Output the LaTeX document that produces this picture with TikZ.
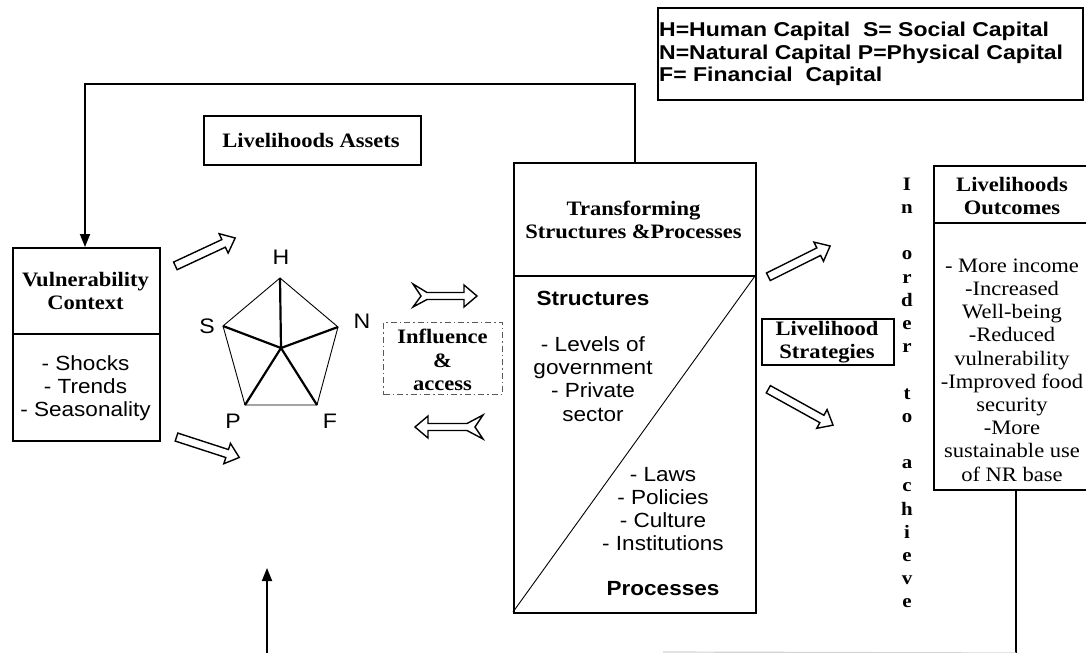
\documentclass[tikz,border=0pt]{standalone}
\usepackage{fontspec}
\setmainfont{Liberation Serif}
\newfontfamily\tnr[FakeStretch=1.1]{Liberation Serif}
\newfontfamily\ari[FakeStretch=1.1]{Liberation Sans}
\newfontfamily\arileg[FakeStretch=1.15]{Liberation Sans}
\usetikzlibrary{shapes.arrows, arrows.meta}
\tikzset{
  box/.style={draw, line width=1.8bp, inner sep=0, anchor=north west},
  ttl/.style={font=\tnr\bfseries\fontsize{20.5bp}{23.2bp}\selectfont, align=center, inner sep=0},
  srf/.style={font=\tnr\fontsize{20.5bp}{23.2bp}\selectfont, align=center, inner sep=0},
  sns/.style={font=\ari\fontsize{20.5bp}{23.2bp}\selectfont, align=center, inner sep=0},
  snsb/.style={font=\ari\bfseries\fontsize{20.5bp}{23.2bp}\selectfont, inner sep=0},
  lbl/.style={font=\ari\fontsize{21bp}{23bp}\selectfont, inner sep=0},
  blockarrow/.style={single arrow, draw, line width=1.4bp, inner xsep=0, inner ysep=3.5bp,
    single arrow head extend=6.5bp, single arrow tip angle=80},
  conn/.style={line width=1.8bp, -{Triangle[length=13bp,width=10bp]}},
  plain/.style={line width=1.8bp},
  thin/.style={line width=0.9bp},
  spoke/.style={line width=2.2bp},
}
\begin{document}
\begin{tikzpicture}[x=1bp,y=-1bp]
\useasboundingbox (0,0) rectangle (1086,653);
% legend
\node[box, minimum width=425bp, minimum height=92bp] (leg) at (657,7) {};
\node[font=\arileg\bfseries\fontsize{20bp}{22.5bp}\selectfont, align=left, inner sep=0, anchor=west] (legt) at (659,54)
 {H=Human Capital\ \ S= Social Capital\\N=Natural Capital P=Physical Capital\\F= Financial\ \ Capital};
% livelihoods assets
\node[box, minimum width=217bp, minimum height=49bp] (la) at (203,115) {};
\node[ttl] (lat) at (311,140) {Livelihoods Assets};
% vulnerability
\node[box, minimum width=147bp, minimum height=193bp] (vul) at (12,247) {};
\draw[plain] (12,334) -- (159,334);
\node[ttl] (vult) at (85.5,291) {Vulnerability\\Context};
\node[sns] (vuli) at (85.5,388) {- Shocks\\- Trends\\- Seasonality};
% transforming
\node[box, minimum width=242bp, minimum height=450bp] (tr) at (513,162) {};
\draw[plain] (513,276) -- (755,276);
\draw[thin] (755,276) -- (513,612);
\node[ttl] (trt) at (633.5,220) {Transforming\\Structures \&Processes};
\node[snsb] (st) at (593,298) {Structures};
\node[sns] (sti) at (593,379) {- Levels of\\government\\- Private\\sector};
\node[sns] (pri) at (663,509) {- Laws\\- Policies\\- Culture\\- Institutions};
\node[snsb] (pr) at (663,589) {Processes};
% strategies
\node[box, minimum width=132bp, minimum height=46bp] (ls) at (761,318) {};
\node[ttl] (lst) at (827,342) {Livelihood\\Strategies};
% outcomes
\node[box, minimum width=170bp, minimum height=324bp] (out) at (933,165) {};
\draw[plain] (933,223) -- (1103,223);
\node[ttl] (outt) at (1012,196) {Livelihoods\\Outcomes};
\node[srf] (outi) at (1012,370) {- More income\\-Increased\\Well-being\\-Reduced\\vulnerability\\-Improved food\\security\\-More\\sustainable use\\of NR base};
% vertical text
\node[font=\tnr\bfseries\fontsize{19bp}{23.2bp}\selectfont, align=center, inner sep=0] (ioa) at (907,393)
 {I\\n\\[23.2bp]o\\r\\d\\e\\r\\[23.2bp]t\\o\\[23.2bp]a\\c\\h\\i\\e\\v\\e};
% influence
\node[draw, gray!70!black, line width=1.2bp, dash pattern=on 6bp off 3bp on 1.5bp off 3bp,
  minimum width=119bp, minimum height=72bp, inner sep=0, anchor=north west] (inf) at (383,322) {};
\node[ttl] (inft) at (442.5,360) {Influence\\\&\\access};
% pentagon
\coordinate (pc) at (281,348);
\coordinate (pH) at (280,278);
\coordinate (pN) at (338,327);
\coordinate (pF) at (317,405);
\coordinate (pP) at (245,405);
\coordinate (pS) at (223,326);
\draw[thin] (pH) -- (pN) -- (pF) -- (pP) -- (pS) -- cycle;
\foreach \v in {pH,pN,pF,pP,pS} \draw[spoke] (pc) -- (\v);
\node[lbl] (lH) at (281,257) {H};
\node[lbl] (lN) at (362,321) {N};
\node[lbl] (lS) at (207,326) {S};
\node[lbl] (lP) at (233,421) {P};
\node[lbl] (lF) at (330,421) {F};
% block arrows
\node[blockarrow, minimum height=66bp, rotate=25] (a1) at (203,253) {};
\node[blockarrow, minimum height=66bp, rotate=-18] (a2) at (205.5,446.5) {};
\node[blockarrow, minimum height=69bp, rotate=26.5] (a3) at (797,262.5) {};
\node[blockarrow, minimum height=74bp, rotate=-29] (a4) at (798.5,406) {};
% chevron arrows
\draw[line width=1.4bp] (477,296) -- (464,285) -- (464,292.5) -- (427,292.5) -- (413,284) -- (421,296)
  -- (413,307) -- (427,299.5) -- (464,299.5) -- (464,307) -- cycle;
\draw[line width=1.4bp] (415,427) -- (428,416) -- (428,423.5) -- (467,423.5) -- (483,415) -- (475,427)
  -- (483,439) -- (467,430.5) -- (428,430.5) -- (428,438) -- cycle;
% feedback loop
\coordinate (fbR) at (635,84);
\coordinate (fbL) at (85,84);
\draw[conn] (tr.north -| fbR) -- (fbR) -- (fbL) -- (vul.north -| fbL);
% up arrow
\coordinate (upB) at (267,653);
\coordinate (upT) at (267,568);
\draw[conn] (upB) -- (upT);
% outcomes line down
\coordinate (ob) at (1016,653);
\draw[plain] (out.south -| ob) -- (ob);
\coordinate (gl) at (663,652);
\draw[gray!35, line width=1.2bp] (gl) -- (ob);
\end{tikzpicture}
\end{document}
